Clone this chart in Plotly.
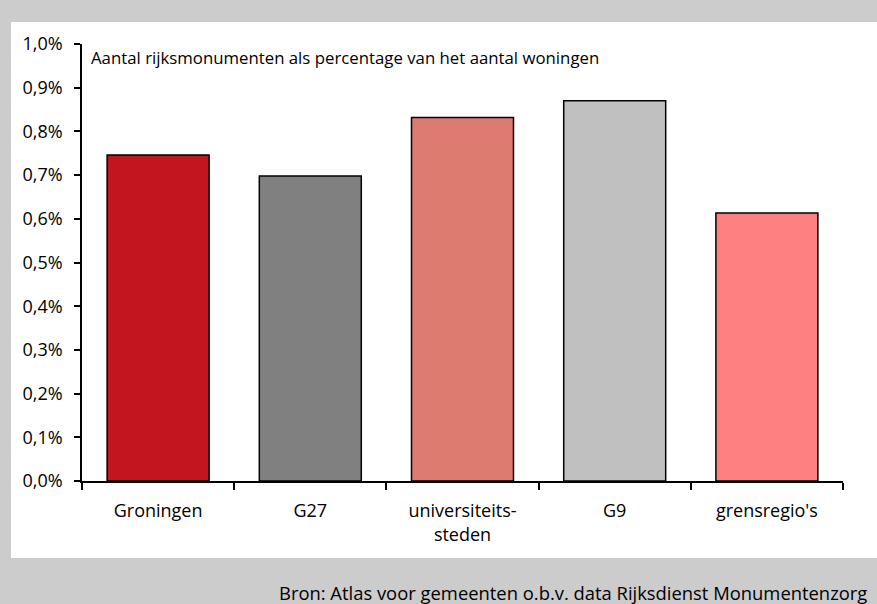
import plotly.graph_objects as go

categories = ["Groningen", "G27", "universiteits-<br>steden", "G9", "grensregio's"]
values = [0.00746, 0.00698, 0.00832, 0.00870, 0.00613]
colors = ["#C3151F", "#808080", "#DE7B71", "#C0C0C0", "#FF8080"]

W, H = 877, 604
L, R, T, B = 82, 34, 44, 123
pw, ph = W - L - R, H - T - B

def px(x):
    return (x - L) / pw

def py(y):
    return (H - B - y) / ph

FONT = "Open Sans"

fig = go.Figure(go.Bar(
    x=categories, y=values,
    marker=dict(color=colors, line=dict(color="black", width=1.5)),
    width=0.67,
))

fig.update_layout(
    width=W, height=H,
    margin=dict(l=L, r=R, t=T, b=B),
    paper_bgcolor="#CCCCCC",
    plot_bgcolor="white",
    separators=",.",
    showlegend=False,
    font=dict(family=FONT, size=18, color="black"),
    shapes=[dict(type="rect", xref="paper", yref="paper",
                 x0=px(11), x1=px(877), y0=py(558), y1=py(22),
                 fillcolor="white", line=dict(width=0), layer="below")],
    annotations=[
        dict(text="Aantal rijksmonumenten als percentage van het aantal woningen",
             xref="paper", yref="paper", x=px(89), y=py(57),
             xanchor="left", yanchor="middle", showarrow=False,
             font=dict(family=FONT, size=16.8, color="black")),
        dict(text="Bron: Atlas voor gemeenten o.b.v. data Rijksdienst Monumentenzorg",
             xref="paper", yref="paper", x=px(277), y=py(592),
             xanchor="left", yanchor="middle", showarrow=False,
             font=dict(family=FONT, size=18.4, color="black")),
    ],
)

fig.update_yaxes(
    range=[0, 0.01], tickformat=".1%", dtick=0.001,
    showgrid=False, zeroline=False,
    showline=True, linecolor="black", linewidth=1.5,
    ticks="outside", ticklen=6, tickwidth=1.5, tickcolor="black",
    ticklabelstandoff=8,
    tickfont=dict(family=FONT, size=18),
)
fig.update_xaxes(
    showgrid=False, showline=True, linecolor="black", linewidth=1.5,
    ticks="outside", tickson="boundaries", ticklen=7, tickwidth=1.5, tickcolor="black",
    ticklabelstandoff=13,
    tickfont=dict(family=FONT, size=18),
)

fig.write_html("out.html", config={"displayModeBar": False},
               post_script="document.body.style.margin='0';document.body.style.overflow='hidden';")
